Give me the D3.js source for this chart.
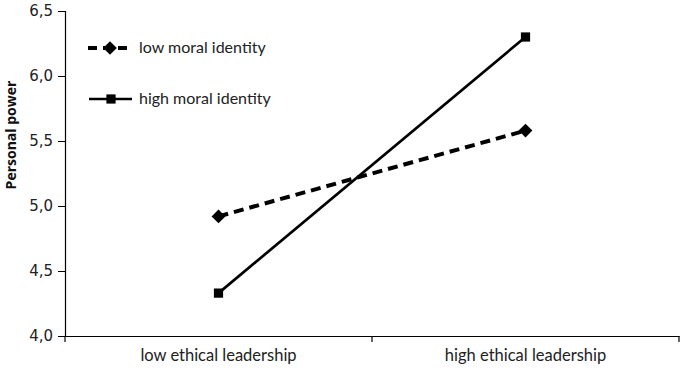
<!DOCTYPE html>
<html><head><meta charset="utf-8">
<script src="https://cdn.jsdelivr.net/npm/d3@7"></script>
<style>body{margin:0;background:#fff}svg{display:block}</style>
</head><body>
<svg id="c" width="680" height="370"></svg>
<script>
const categories = ["low ethical leadership", "high ethical leadership"];
const lowMoral = [4.92, 5.58];
const highMoral = [4.33, 6.30];
const seriesNames = ["low moral identity", "high moral identity"];
const yTicks = [4.0, 4.5, 5.0, 5.5, 6.0, 6.5];
const yTitle = "Personal power";

(function(){
const svg = d3.select("#c");
const mLeft = 65, mRight = 679, mTop = 11, mBottom = 336;
const x = d3.scaleBand().domain(categories).range([mLeft, mRight]);
const y = d3.scaleLinear().domain([4.0, 6.5]).range([mBottom, mTop]);

// y axis
const ya = svg.append("g").attr("transform", `translate(${mLeft},0)`)
  .call(d3.axisLeft(y).tickValues(yTicks).tickSize(7).tickPadding(5)
    .tickFormat(d => d3.format(".1f")(d).replace(".", ",")));
ya.select(".domain").attr("stroke", "#000").attr("stroke-width", 1.2);
ya.selectAll(".tick line").attr("stroke", "#000");
ya.selectAll("text").attr("font-family", "DejaVu Sans").attr("font-size", 15).attr("fill", "#222");

// x axis
const xa = svg.append("g").attr("transform", `translate(0,${mBottom})`)
  .call(d3.axisBottom(x).tickSize(0).tickPadding(13));
xa.select(".domain").attr("stroke", "#000").attr("stroke-width", 1.2);
xa.selectAll("text").attr("font-family", "Lato, Open Sans").attr("font-size", 16.5).attr("fill", "#222");
const bounds = [mLeft, ...categories.slice(1).map(c => x(c)), mRight];
svg.append("g").selectAll("line").data(bounds).join("line")
  .attr("x1", d => d).attr("x2", d => d).attr("y1", mBottom).attr("y2", mBottom + 6)
  .attr("stroke", "#000").attr("stroke-width", 1.2);

// y title
svg.append("text").attr("transform", `translate(16,135) rotate(-90)`)
  .attr("text-anchor", "middle").attr("font-family", "Open Sans, DejaVu Sans")
  .attr("font-weight", "bold").attr("font-size", 14).attr("fill", "#111").text(yTitle);

const cx = c => x(c) + x.bandwidth() / 2;
const line = d3.line().x((d, i) => cx(categories[i])).y(d => y(d));

svg.append("path").datum(lowMoral).attr("d", line).attr("fill", "none")
  .attr("stroke", "#000").attr("stroke-width", 4).attr("stroke-dasharray", "10,6");
svg.append("path").datum(highMoral).attr("d", line).attr("fill", "none")
  .attr("stroke", "#000").attr("stroke-width", 2.7);

const diamond = d3.symbol().type(d3.symbolDiamond2).size(120);
const square = d3.symbol().type(d3.symbolSquare).size(85);
svg.append("g").selectAll("path").data(lowMoral).join("path")
  .attr("d", diamond).attr("transform", (d, i) => `translate(${cx(categories[i])},${y(d)})`);
svg.append("g").selectAll("path").data(highMoral).join("path")
  .attr("d", square).attr("transform", (d, i) => `translate(${cx(categories[i])},${y(d)})`);

// legend
const lg = svg.append("g");
const ly = [48, 99];
lg.append("line").attr("x1", 88).attr("x2", 132).attr("y1", ly[0]).attr("y2", ly[0])
  .attr("stroke", "#000").attr("stroke-width", 4).attr("stroke-dasharray", "9,6");
lg.append("path").attr("d", diamond).attr("transform", `translate(110,${ly[0]})`);
lg.append("line").attr("x1", 89).attr("x2", 132).attr("y1", ly[1]).attr("y2", ly[1])
  .attr("stroke", "#000").attr("stroke-width", 2.7);
lg.append("path").attr("d", square).attr("transform", `translate(111,${ly[1]})`);
lg.selectAll("text.l").data(seriesNames).join("text")
  .attr("x", 139).attr("y", (d, i) => ly[i] + 5)
  .attr("font-family", "Lato, Open Sans").attr("font-size", 16).attr("fill", "#222").text(d => d);
})();
</script>
</body></html>
